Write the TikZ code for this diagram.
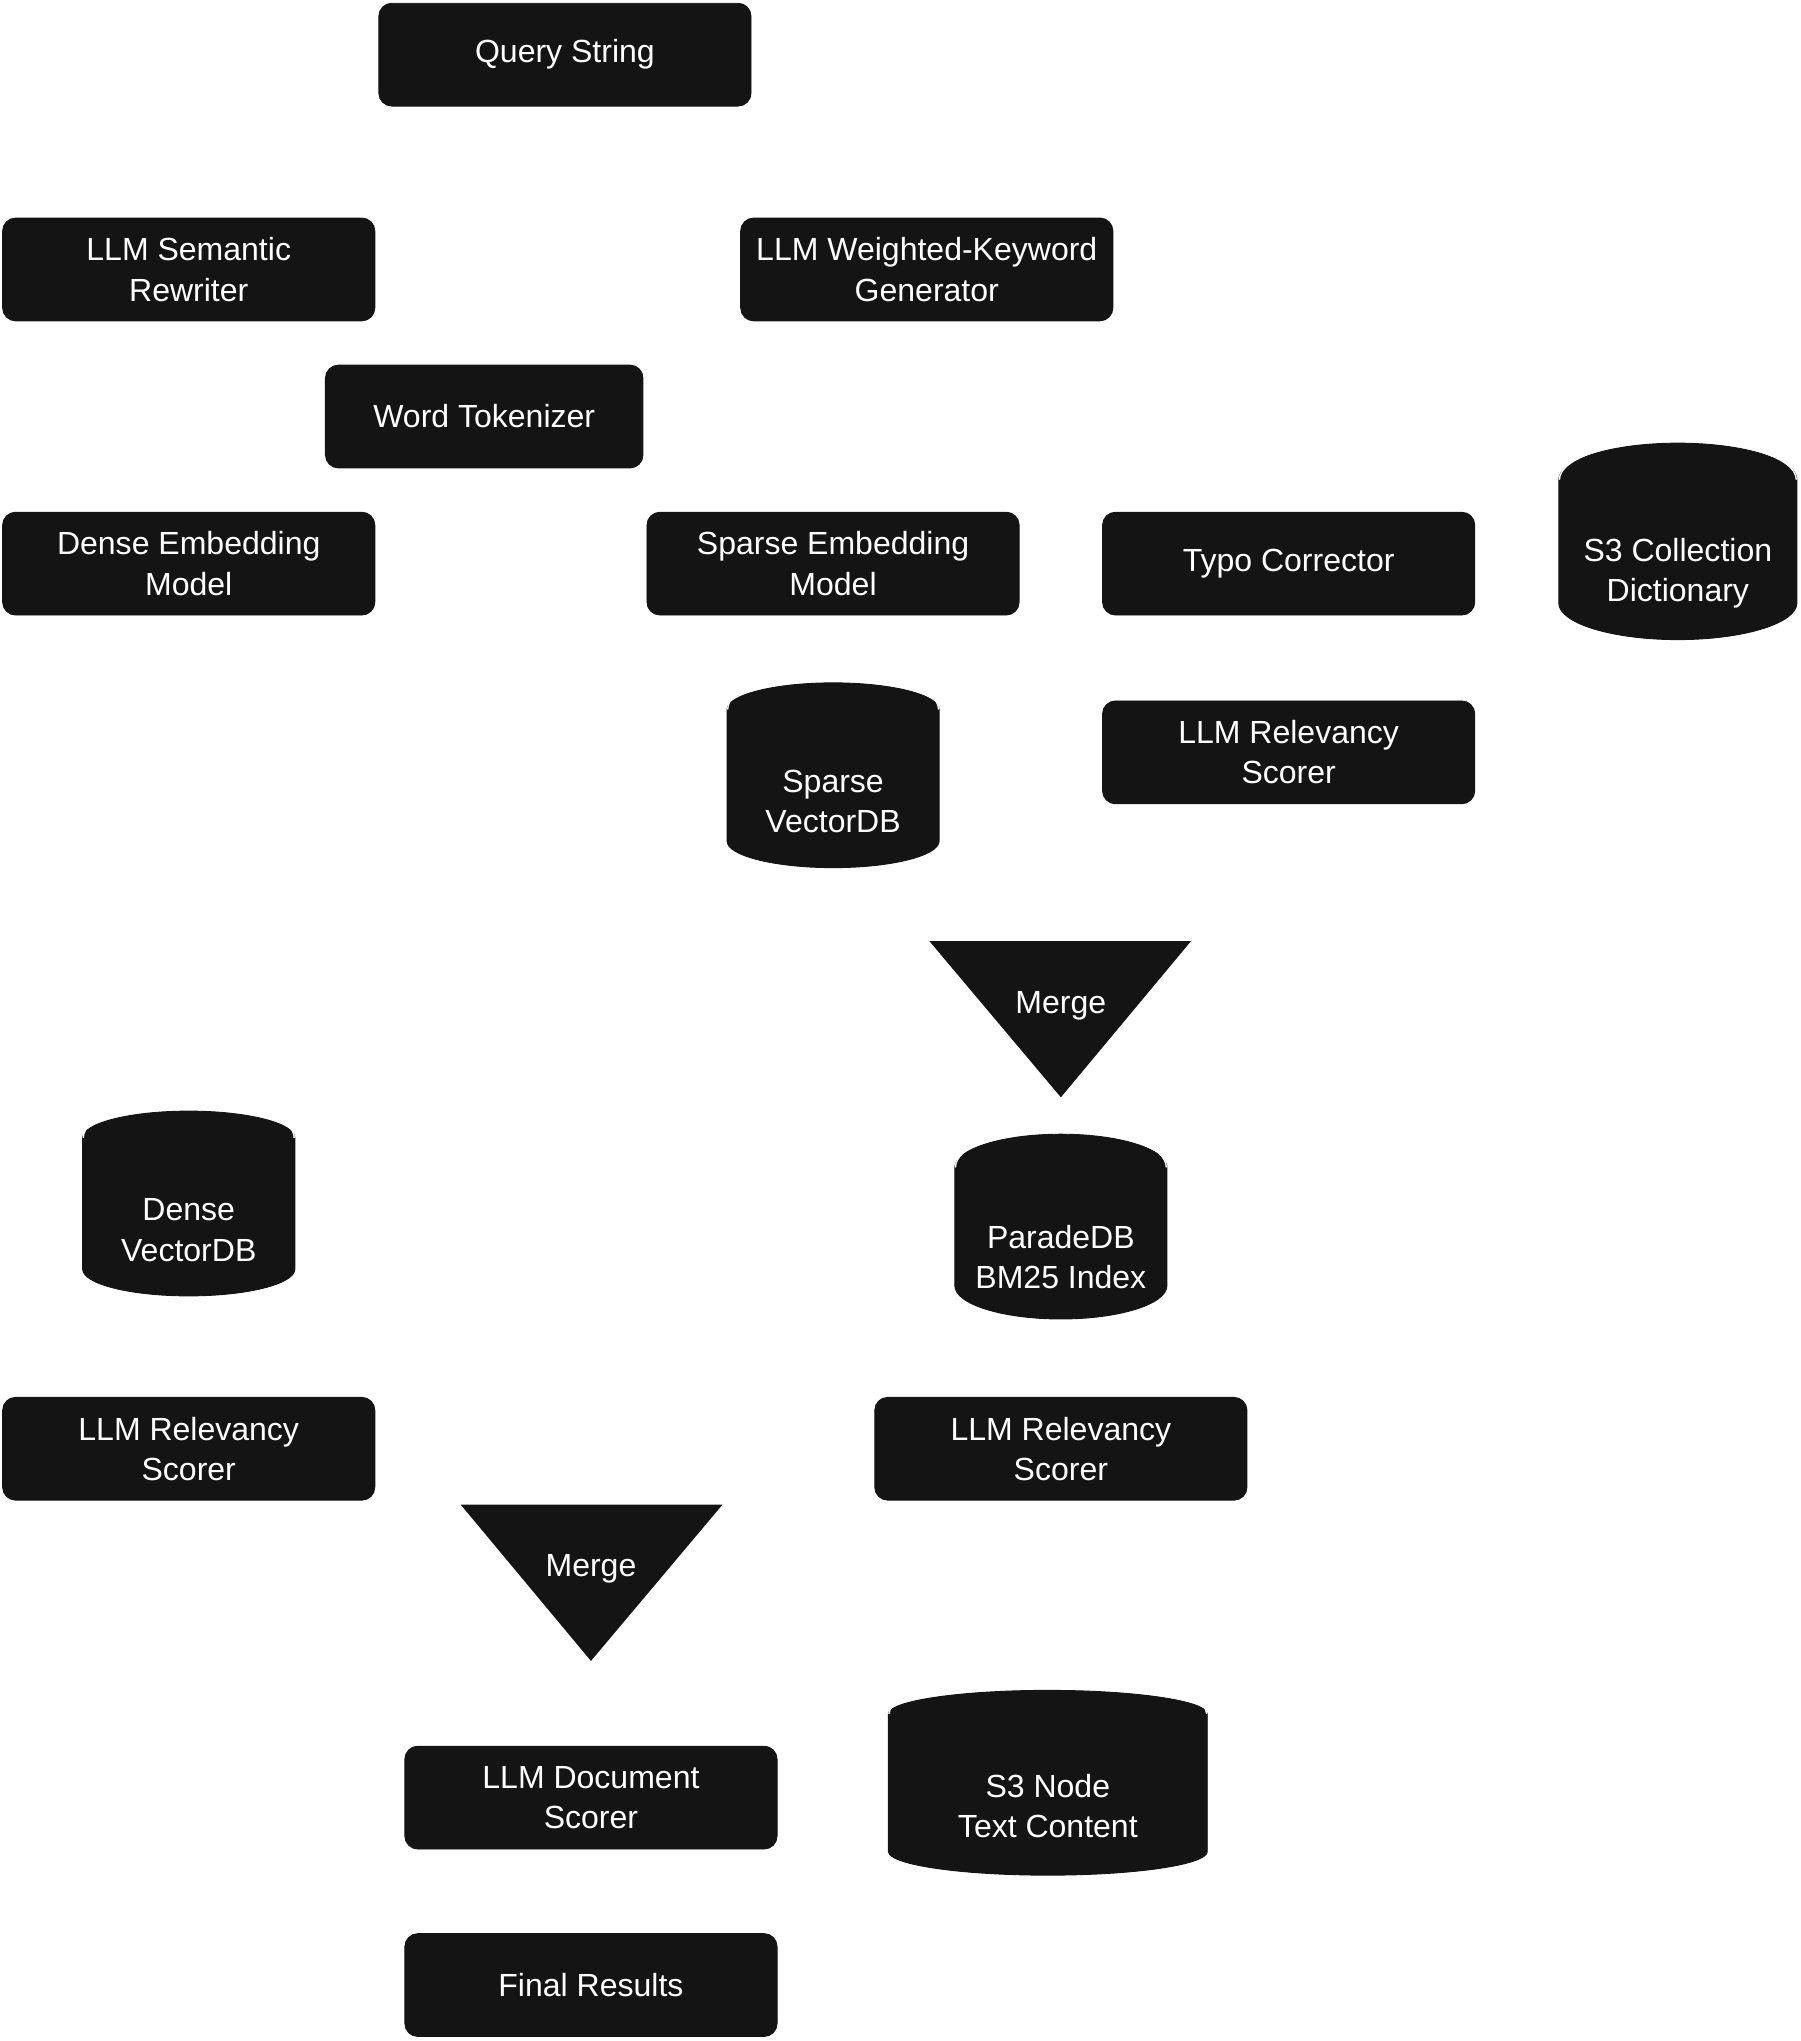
\documentclass[tikz,border=0pt]{standalone}
\usepackage{fontspec}
\setmainfont{Liberation Sans}
\usetikzlibrary{shapes.geometric,calc}
\newcommand{\dbtop}[3]{%
  \draw[white,line width=0.6pt] ($(#1.before top)!.5!(#1.after top)$) ++(-#2,0)
    arc[start angle=180,end angle=360,x radius=#2,y radius=#3];}
\begin{document}
\begin{tikzpicture}[x=0.02cm,y=-0.02cm]
  \tikzset{stage/.style = {rectangle,rounded corners=0.2cm,fill=black!92,draw=black!92,text=white,
      minimum width=5.72cm,minimum height=1.58cm,align=center,inner sep=2pt,
      font=\fontsize{14}{17.6}\selectfont}}
  \tikzset{store/.style = {cylinder,shape border rotate=90,fill=black!92,draw=black!92,text=white,
      minimum width=3.26cm,minimum height=2.84cm,aspect=0.37,align=center,inner sep=2pt,
      font=\fontsize{14}{17.6}\selectfont}}
  \tikzset{merge/.style = {fill=black!92}}
  \useasboundingbox (0,0) rectangle (1383,1568);

	\node[stage] (query) at (434,42) {Query String};
	\node[stage] (rewriter) at (145,207) {LLM Semantic\\Rewriter};
	\node[stage] (keywords) at (712,207) {LLM Weighted-Keyword\\Generator};
	\node[stage,minimum width=4.88cm] (tokenizer) at (372,320) {Word Tokenizer};
	\node[stage] (dense) at (145,433) {Dense Embedding\\Model};
	\node[stage] (sparse) at (640,433) {Sparse Embedding\\Model};
	\node[stage] (typo) at (990,433) {Typo Corrector};
	\node[store,minimum width=3.66cm] (dict) at (1289,434) {\\S3 Collection\\Dictionary};
	\node[stage] (scorerA) at (990,578) {LLM Relevancy\\Scorer};
	\node[store] (sparsedb) at (640,609) {\\Sparse\\VectorDB};

	\fill[merge] (714,723) -- (915,723) -- (815,843) -- cycle;
	\node[text=white,font=\fontsize{14}{17.6}\selectfont] (mergeA) at (815,773) {Merge};

	\node[store] (densedb) at (145,938) {\\Dense\\VectorDB};
	\node[store] (bm25) at (815,959) {\\ParadeDB\\BM25 Index};
	\node[stage] (scorerB) at (145,1113) {LLM Relevancy\\Scorer};
	\node[stage] (scorerC) at (815,1113) {LLM Relevancy\\Scorer};

	\fill[merge] (354,1156) -- (555,1156) -- (454,1276) -- cycle;
	\node[text=white,font=\fontsize{14}{17.6}\selectfont] (mergeB) at (454,1205) {Merge};

	\node[stage] (docscorer) at (454,1381) {LLM Document\\Scorer};
	\node[store,minimum width=4.9cm,aspect=0.25] (nodetext) at (805,1381) {\\S3 Node\\Text Content};
	\node[stage] (final) at (454,1525) {Final Results};

	\dbtop{dict}{91}{30}
	\dbtop{sparsedb}{81}{30}
	\dbtop{densedb}{81}{30}
	\dbtop{bm25}{81}{30}
	\dbtop{nodetext}{122}{30}
\end{tikzpicture}
\end{document}
